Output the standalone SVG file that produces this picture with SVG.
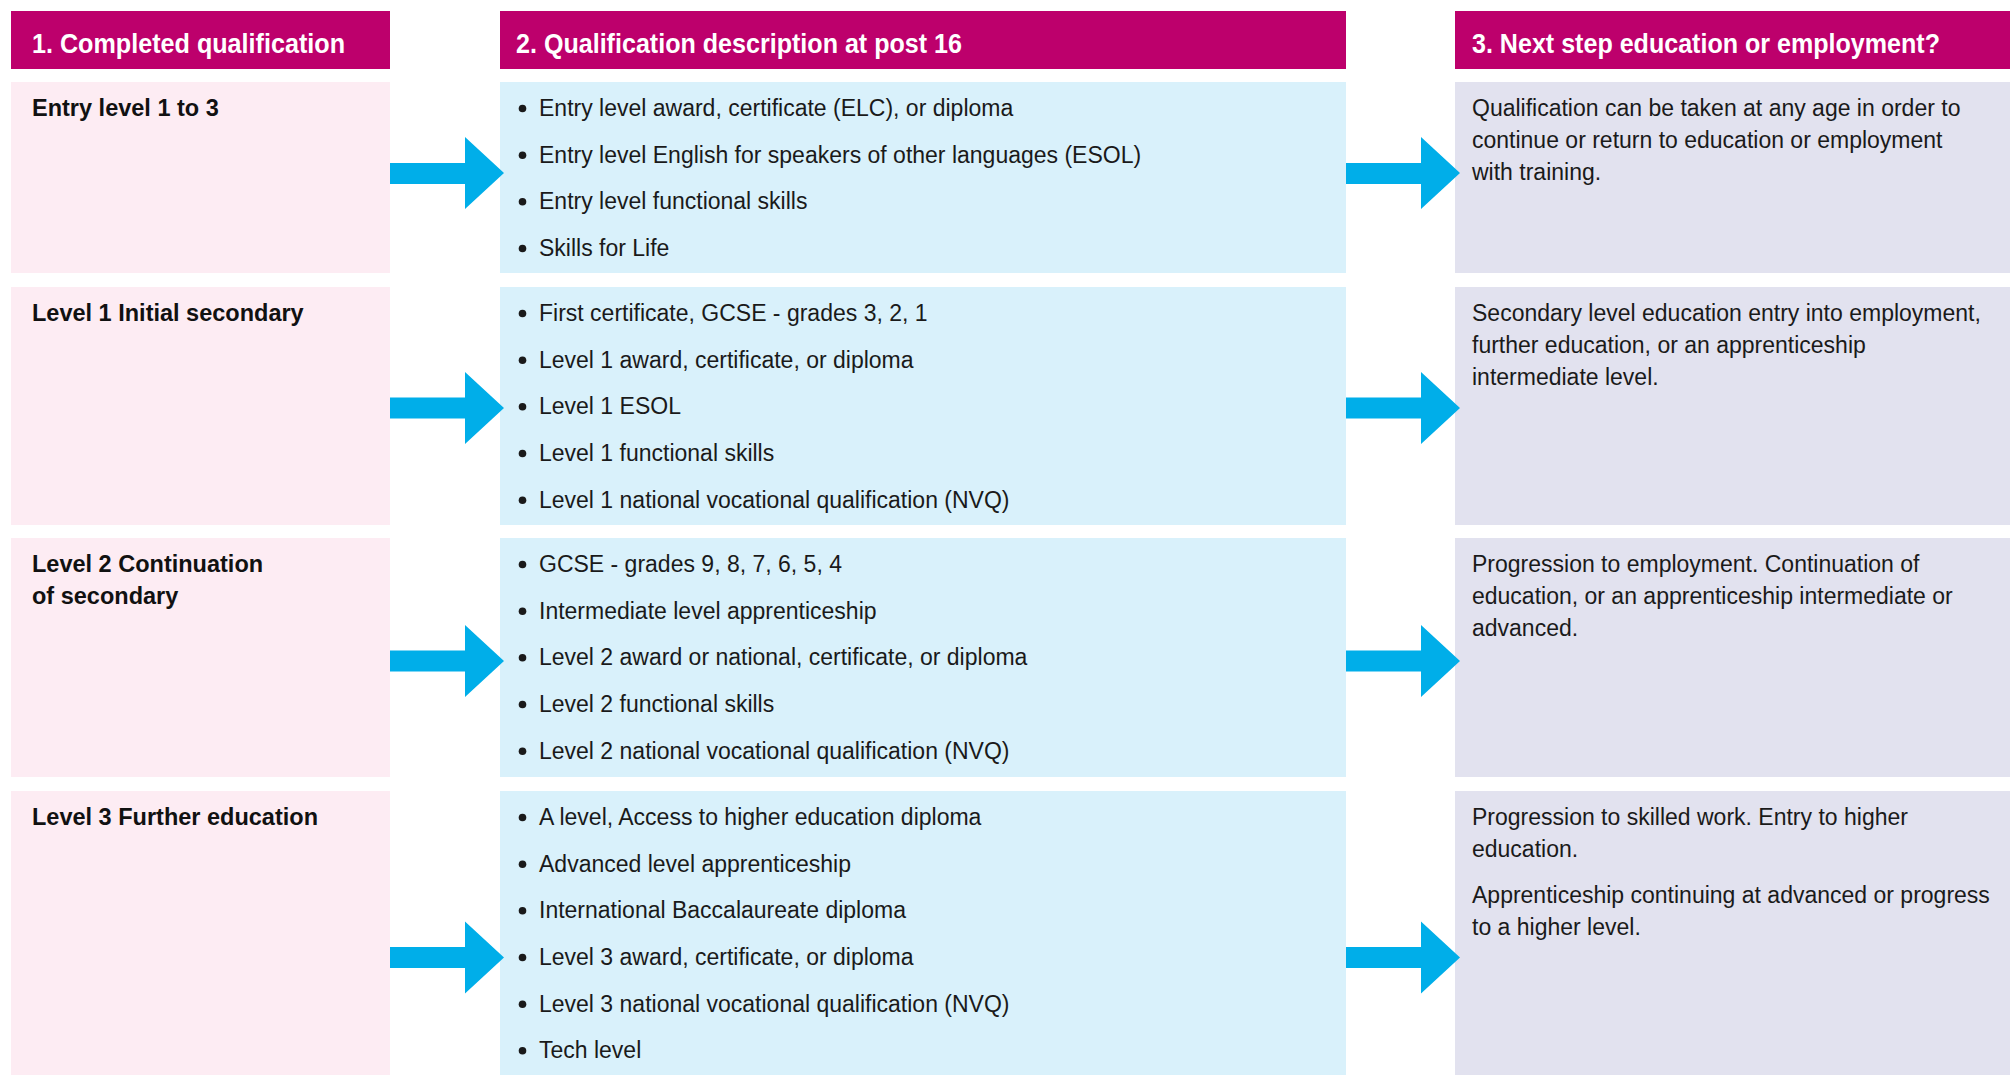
<svg xmlns="http://www.w3.org/2000/svg" width="2010" height="1075" viewBox="0 0 2010 1075">
<style>
.hdr{fill:#bd006c}
.c1{fill:#fdecf3}
.c2{fill:#d9f1fb}
.c3{fill:#e2e2ef}
.ht{font-family:"Liberation Sans",Arial,sans-serif;font-weight:bold;font-size:28px;fill:#ffffff}
.lbl{font-family:"Liberation Sans",Arial,sans-serif;font-weight:bold;font-size:23.5px;fill:#111111}
.t{font-family:"Liberation Sans",Arial,sans-serif;font-size:23px;fill:#1a1a1a}
.b{fill:#1a1a1a}
.arr{fill:#00aee9}
</style>
<rect x="0" y="0" width="2010" height="1075" fill="#ffffff"/>

<g id="header-1">
<rect class="hdr" x="11" y="11" width="379" height="58"/>
<text class="ht" x="32" y="53" textLength="313" lengthAdjust="spacingAndGlyphs">1. Completed qualification</text>
</g>
<g id="header-2">
<rect class="hdr" x="500" y="11" width="846" height="58"/>
<text class="ht" x="516" y="53" textLength="446" lengthAdjust="spacingAndGlyphs">2. Qualification description at post 16</text>
</g>
<g id="header-3">
<rect class="hdr" x="1455" y="11" width="555" height="58"/>
<text class="ht" x="1472" y="53" textLength="468" lengthAdjust="spacingAndGlyphs">3. Next step education or employment?</text>
</g>

<!-- Row 1 -->
<g id="r1-qual">
<rect class="c1" x="11" y="82" width="379" height="191"/>
<text class="lbl" x="32" y="116">Entry level 1 to 3</text>
</g>
<g id="r1-desc">
<rect class="c2" x="500" y="82" width="846" height="191"/>
<circle class="b" cx="522.5" cy="108.5" r="3.8"/><text class="t" x="539" y="116">Entry level award, certificate (ELC), or diploma</text>
<circle class="b" cx="522.5" cy="155.2" r="3.8"/><text class="t" x="539" y="162.7">Entry level English for speakers of other languages (ESOL)</text>
<circle class="b" cx="522.5" cy="201.8" r="3.8"/><text class="t" x="539" y="209.3">Entry level functional skills</text>
<circle class="b" cx="522.5" cy="248.5" r="3.8"/><text class="t" x="539" y="256">Skills for Life</text>
</g>
<g id="r1-next">
<rect class="c3" x="1455" y="82" width="555" height="191"/>
<text class="t" x="1472" y="116">Qualification can be taken at any age in order to</text>
<text class="t" x="1472" y="148">continue or return to education or employment</text>
<text class="t" x="1472" y="180">with training.</text>
</g>

<!-- Row 2 -->
<g id="r2-qual">
<rect class="c1" x="11" y="287" width="379" height="238"/>
<text class="lbl" x="32" y="321">Level 1 Initial secondary</text>
</g>
<g id="r2-desc">
<rect class="c2" x="500" y="287" width="846" height="238"/>
<circle class="b" cx="522.5" cy="313.5" r="3.8"/><text class="t" x="539" y="321">First certificate, GCSE - grades 3, 2, 1</text>
<circle class="b" cx="522.5" cy="360.2" r="3.8"/><text class="t" x="539" y="367.7">Level 1 award, certificate, or diploma</text>
<circle class="b" cx="522.5" cy="406.8" r="3.8"/><text class="t" x="539" y="414.3">Level 1 ESOL</text>
<circle class="b" cx="522.5" cy="453.5" r="3.8"/><text class="t" x="539" y="461">Level 1 functional skills</text>
<circle class="b" cx="522.5" cy="500.2" r="3.8"/><text class="t" x="539" y="507.7">Level 1 national vocational qualification (NVQ)</text>
</g>
<g id="r2-next">
<rect class="c3" x="1455" y="287" width="555" height="238"/>
<text class="t" x="1472" y="321">Secondary level education entry into employment,</text>
<text class="t" x="1472" y="353">further education, or an apprenticeship</text>
<text class="t" x="1472" y="385">intermediate level.</text>
</g>

<!-- Row 3 -->
<g id="r3-qual">
<rect class="c1" x="11" y="538" width="379" height="239"/>
<text class="lbl" x="32" y="572">Level 2 Continuation</text>
<text class="lbl" x="32" y="604">of secondary</text>
</g>
<g id="r3-desc">
<rect class="c2" x="500" y="538" width="846" height="239"/>
<circle class="b" cx="522.5" cy="564.5" r="3.8"/><text class="t" x="539" y="572">GCSE - grades 9, 8, 7, 6, 5, 4</text>
<circle class="b" cx="522.5" cy="611.2" r="3.8"/><text class="t" x="539" y="618.7">Intermediate level apprenticeship</text>
<circle class="b" cx="522.5" cy="657.8" r="3.8"/><text class="t" x="539" y="665.3">Level 2 award or national, certificate, or diploma</text>
<circle class="b" cx="522.5" cy="704.5" r="3.8"/><text class="t" x="539" y="712">Level 2 functional skills</text>
<circle class="b" cx="522.5" cy="751.2" r="3.8"/><text class="t" x="539" y="758.7">Level 2 national vocational qualification (NVQ)</text>
</g>
<g id="r3-next">
<rect class="c3" x="1455" y="538" width="555" height="239"/>
<text class="t" x="1472" y="572">Progression to employment. Continuation of</text>
<text class="t" x="1472" y="604">education, or an apprenticeship intermediate or</text>
<text class="t" x="1472" y="636">advanced.</text>
</g>

<!-- Row 4 -->
<g id="r4-qual">
<rect class="c1" x="11" y="791" width="379" height="284"/>
<text class="lbl" x="32" y="825">Level 3 Further education</text>
</g>
<g id="r4-desc">
<rect class="c2" x="500" y="791" width="846" height="284"/>
<circle class="b" cx="522.5" cy="817.5" r="3.8"/><text class="t" x="539" y="825">A level, Access to higher education diploma</text>
<circle class="b" cx="522.5" cy="864.2" r="3.8"/><text class="t" x="539" y="871.7">Advanced level apprenticeship</text>
<circle class="b" cx="522.5" cy="910.8" r="3.8"/><text class="t" x="539" y="918.3">International Baccalaureate diploma</text>
<circle class="b" cx="522.5" cy="957.5" r="3.8"/><text class="t" x="539" y="965">Level 3 award, certificate, or diploma</text>
<circle class="b" cx="522.5" cy="1004.2" r="3.8"/><text class="t" x="539" y="1011.7">Level 3 national vocational qualification (NVQ)</text>
<circle class="b" cx="522.5" cy="1050.8" r="3.8"/><text class="t" x="539" y="1058.3">Tech level</text>
</g>
<g id="r4-next">
<rect class="c3" x="1455" y="791" width="555" height="284"/>
<text class="t" x="1472" y="825">Progression to skilled work. Entry to higher</text>
<text class="t" x="1472" y="857">education.</text>
<text class="t" x="1472" y="903">Apprenticeship continuing at advanced or progress</text>
<text class="t" x="1472" y="935">to a higher level.</text>
</g>

<g id="connectors">
<polygon class="arr" points="390,163 465,163 465,137 504,173 465,209 465,184 390,184"/>
<polygon class="arr" points="1346,163 1421,163 1421,137 1460,173 1421,209 1421,184 1346,184"/>
<polygon class="arr" points="390,397.5 465,397.5 465,372 504,408 465,444 465,418.5 390,418.5"/>
<polygon class="arr" points="1346,397.5 1421,397.5 1421,372 1460,408 1421,444 1421,418.5 1346,418.5"/>
<polygon class="arr" points="390,650.5 465,650.5 465,625 504,661 465,697 465,671.5 390,671.5"/>
<polygon class="arr" points="1346,650.5 1421,650.5 1421,625 1460,661 1421,697 1421,671.5 1346,671.5"/>
<polygon class="arr" points="390,947 465,947 465,921.5 504,957.5 465,993.5 465,968 390,968"/>
<polygon class="arr" points="1346,947 1421,947 1421,921.5 1460,957.5 1421,993.5 1421,968 1346,968"/>
</g>
</svg>
